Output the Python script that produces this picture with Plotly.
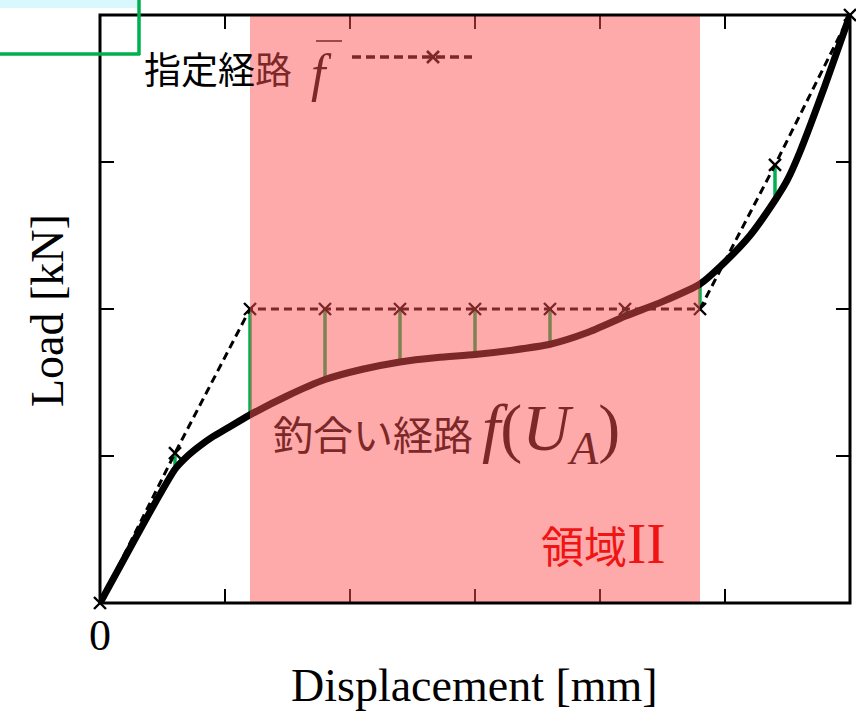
import numpy as np
import plotly.graph_objects as go

# ---- data ----
# specified (prescribed) path  f-bar
path_x = [0.0, 0.6, 1.2, 1.8, 2.4, 3.0, 3.6, 4.2, 4.8, 5.4, 6.0]
path_y = [0.0, 1.02, 2.0, 2.0, 2.0, 2.0, 2.0, 2.0, 2.0, 2.98, 4.0]

# equilibrium path f(U_A)
curve_x = [0.0, 0.2, 0.4, 0.6, 0.7, 0.8, 0.9, 1.0, 1.2, 1.5, 1.8, 2.1, 2.4, 2.7, 3.0,
           3.3, 3.6, 3.9, 4.2, 4.5, 4.8, 5.0, 5.2, 5.4, 5.5, 5.6, 5.8, 6.0]
curve_y = [0.0, 0.31, 0.62, 0.91, 1.00, 1.07, 1.13, 1.18, 1.28, 1.41, 1.52, 1.59, 1.64, 1.67, 1.69,
           1.72, 1.76, 1.84, 1.95, 2.05, 2.17, 2.32, 2.50, 2.74, 2.88, 3.07, 3.52, 4.0]

region_x = [1.2, 4.8]          # region II (shaded)
x_range = [0, 6]
y_range = [0, 4]
x_tickvals = [0, 1, 2, 3, 4, 5, 6]
x_ticktext = ["0", " ", " ", " ", " ", " ", " "]
y_tickvals = [0, 1, 2, 3, 4]

# ---- layout geometry helpers (pixel -> paper) ----
W, H = 856, 712
L, R, T, B = 100, 6, 15, 109
PW, PH = W - L - R, H - T - B


def px(x):
    return (x - L) / PW


def py(y):
    return (H - B - y) / PH


BROWN = "#7d2828"
SERIF = "Liberation Serif, Times New Roman, serif"
CJK = "Noto Sans CJK JP, sans-serif"

fig = go.Figure()

# green correction segments between prescribed points and the curve
gx, gy = [], []
for xv, yv in zip(path_x[1:-1], path_y[1:-1]):
    cy = float(np.interp(xv, curve_x, curve_y))
    gx += [xv, xv, None]
    gy += [yv, cy, None]
fig.add_trace(go.Scatter(x=gx, y=gy, mode="lines",
                         line=dict(color="#00b050", width=3.5),
                         hoverinfo="skip", showlegend=False))

# equilibrium curve
fig.add_trace(go.Scatter(x=curve_x, y=curve_y, mode="lines",
                         line=dict(color="black", width=7, shape="spline", smoothing=0.6),
                         showlegend=False))

# prescribed path
fig.add_trace(go.Scatter(x=path_x, y=path_y, mode="lines+markers",
                         line=dict(color="black", width=3, dash="8px,5px"),
                         marker=dict(symbol="x-thin", size=12,
                                     line=dict(color="black", width=2.4)),
                         showlegend=False, cliponaxis=False))

shapes = []
# legend sample for prescribed path (drawn under the pink overlay)
shapes.append(dict(type="line", xref="paper", yref="paper",
                   x0=px(352), x1=px(472), y0=py(57), y1=py(57), layer="above",
                   line=dict(color="black", width=3.5, dash="9px,5px")))
for dx0, dy0, dx1, dy1 in [(-6, -6, 6, 6), (-6, 6, 6, -6)]:
    shapes.append(dict(type="line", xref="paper", yref="paper",
                       x0=px(433 + dx0), x1=px(433 + dx1),
                       y0=py(57 + dy0), y1=py(57 + dy1), layer="above",
                       line=dict(color="black", width=2.6)))
# pink region II overlay
shapes.append(dict(type="rect", xref="x", yref="y",
                   x0=region_x[0], x1=region_x[1], y0=y_range[0], y1=y_range[1],
                   fillcolor="rgba(255,82,82,0.49)", line=dict(width=0), layer="above"))
# frame
shapes.append(dict(type="rect", xref="paper", yref="paper", x0=0, x1=1, y0=0, y1=1,
                   line=dict(color="black", width=3), layer="above"))
# cyan / green box fragment at top-left
shapes.append(dict(type="rect", xref="paper", yref="paper",
                   x0=px(0), x1=px(137), y0=py(8), y1=py(-2),
                   fillcolor="#d9f8fd", line=dict(width=0), layer="above"))
shapes.append(dict(type="line", xref="paper", yref="paper",
                   x0=px(139), x1=px(139), y0=py(-2), y1=py(55), layer="above",
                   line=dict(color="#00b050", width=3.5)))
shapes.append(dict(type="line", xref="paper", yref="paper",
                   x0=px(-2), x1=px(140), y0=py(54), y1=py(54), layer="above",
                   line=dict(color="#00b050", width=3.5)))
# overbar of f
shapes.append(dict(type="line", xref="paper", yref="paper",
                   x0=px(316), x1=px(342), y0=py(41), y1=py(41), layer="above",
                   line=dict(color=BROWN, width=1.5)))

annotations = [
    dict(xref="paper", yref="paper", x=px(142), y=py(68), xanchor="left", yanchor="middle",
         text="指定経<span style='color:%s'>路</span>" % BROWN, showarrow=False,
         font=dict(family=CJK, size=37, color="black")),
    dict(xref="paper", yref="paper", x=px(321), y=py(74), xanchor="center", yanchor="middle",
         text="<i>f</i>", showarrow=False,
         font=dict(family=SERIF, size=52, color=BROWN)),
    dict(xref="paper", yref="paper", x=px(271), y=py(432), xanchor="left", yanchor="middle",
         text="釣合い経路 <span style='font-family:Liberation Serif;font-size:66px'><i>f</i>(<i>U</i><sub><i>A</i></sub>)</span>",
         showarrow=False, font=dict(family=CJK, size=40, color=BROWN)),
    dict(xref="paper", yref="paper", x=px(539), y=py(543), xanchor="left", yanchor="middle",
         text="領域<span style='font-family:Liberation Serif;font-size:58px'>II</span>",
         showarrow=False, font=dict(family=CJK, size=43, color="#f01414")),
    dict(xref="paper", yref="paper", x=px(474), y=py(686), xanchor="center", yanchor="middle",
         text="Displacement [mm]", showarrow=False,
         font=dict(family=SERIF, size=46, color="black")),
    dict(xref="paper", yref="paper", x=px(47), y=py(311), xanchor="center", yanchor="middle",
         text="Load [kN]", textangle=-90, showarrow=False,
         font=dict(family=SERIF, size=46, color="black")),
]

fig.update_layout(
    width=W, height=H,
    margin=dict(l=L, r=R, t=T, b=B, autoexpand=False),
    paper_bgcolor="white", plot_bgcolor="white",
    shapes=shapes, annotations=annotations,
    showlegend=False,
    xaxis=dict(range=x_range, tickvals=x_tickvals, ticktext=x_ticktext,
               ticks="inside", ticklen=14, tickwidth=2, tickcolor="black",
               mirror="ticks", showline=False, showgrid=False, zeroline=False,
               tickfont=dict(family=SERIF, size=44, color="black"),
               ticklabelstandoff=2, automargin=False),
    yaxis=dict(range=y_range, tickvals=y_tickvals, showticklabels=False,
               ticks="inside", ticklen=14, tickwidth=2, tickcolor="black",
               mirror="ticks", showline=False, showgrid=False, zeroline=False,
               automargin=False),
)

fig.write_html("out.html", config={"displayModeBar": False},
               post_script="document.body.style.margin='0px';document.body.style.overflow='hidden';")
